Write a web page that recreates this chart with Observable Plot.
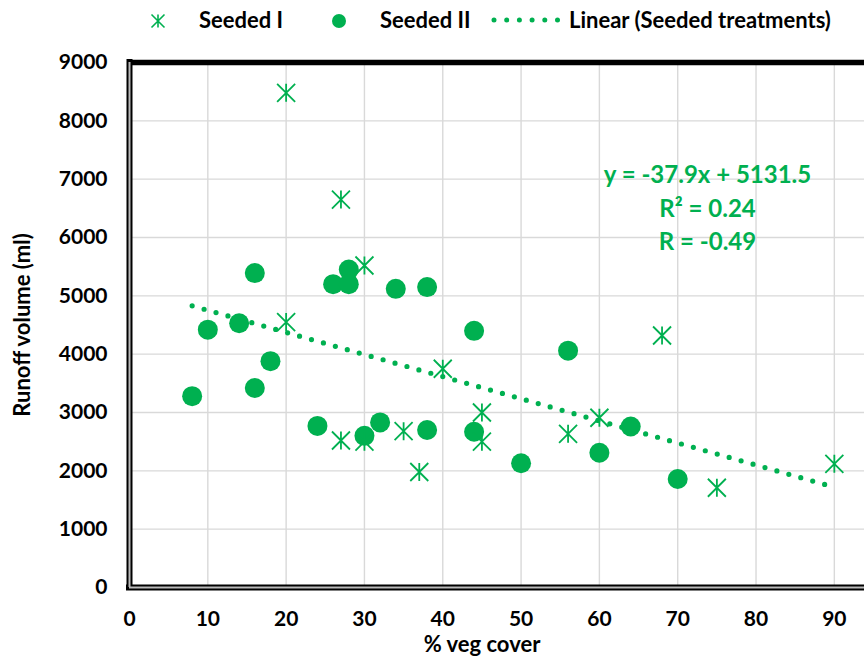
<!DOCTYPE html>
<html>
<head>
<meta charset="utf-8">
<script src="https://cdn.jsdelivr.net/npm/d3@7"></script>
<script src="https://cdn.jsdelivr.net/npm/@observablehq/plot@0.6"></script>
<style>
  html, body { margin: 0; padding: 0; background: #fff; }
  body { width: 864px; height: 662px; overflow: hidden; font-family: Lato, "Open Sans", sans-serif; font-weight: bold; }
  #legend { position: relative; height: 40px; width: 864px; font-size: 22px; color: #000; }
  #legend .item { position: absolute; top: 0; height: 40px; line-height: 40px; white-space: nowrap; }
  #legend svg { position: absolute; }
  #chart svg { display: block; }
</style>
</head>
<body>
<div id="legend"></div>
<div id="chart"></div>
<script>
// ---- data ----
const seededIX = [20, 27, 30, 20, 40, 45, 45, 27, 30, 35, 37, 68, 56, 60, 75, 90];
const seededIY = [8480, 6650, 5520, 4550, 3750, 3000, 2500, 2520, 2500, 2680, 1980, 4320, 2635, 2910, 1710, 2120];
const seededIIX = [16, 28, 26, 28, 34, 38, 10, 14, 44, 18, 16, 8, 24, 30, 32, 38, 44, 56, 50, 60, 64, 70];
const seededIIY = [5390, 5450, 5200, 5200, 5120, 5150, 4420, 4530, 4400, 3880, 3420, 3280, 2770, 2600, 2830, 2700, 2670, 4060, 2130, 2310, 2760, 1860];
const trendX = [8, 90];
const trendY = [4828, 1720];
const xTicks = [0, 10, 20, 30, 40, 50, 60, 70, 80, 90];
const yTicks = [0, 1000, 2000, 3000, 4000, 5000, 6000, 7000, 8000, 9000];
const seriesNames = ["Seeded I", "Seeded II", "Linear (Seeded treatments)"];
const equationText = ["y = -37.9x + 5131.5", "R² = 0.24", "R = -0.49"];
const xLabel = "% veg cover";
const yLabel = "Runoff volume (ml)";

const green = "#00B050";
const seedI = seededIX.map((x, i) => ({x, y: seededIY[i]}));
const seedII = seededIIX.map((x, i) => ({x, y: seededIIY[i]}));
const trend = trendX.map((x, i) => ({x, y: trendY[i]}));

const asterisk = {
  draw(ctx, size) {
    const r = Math.sqrt(size / Math.PI);
    ctx.moveTo(0, -r); ctx.lineTo(0, r);
    ctx.moveTo(-r, -r); ctx.lineTo(r, r);
    ctx.moveTo(-r, r); ctx.lineTo(r, -r);
  }
};

// ---- legend ----
const legend = document.getElementById("legend");
legend.innerHTML = `
  <svg style="left:150px;top:13px" width="16" height="16" viewBox="-8 -8 16 16">
    <path d="M0,-6.5V6.5M-6.5,-6.5L6.5,6.5M-6.5,6.5L6.5,-6.5" stroke="${green}" stroke-width="1.6" fill="none"/>
  </svg>
  <div class="item" style="left:199px">${seriesNames[0]}</div>
  <svg style="left:331px;top:13px" width="16" height="16" viewBox="-8 -8 16 16">
    <circle r="7" fill="${green}"/>
  </svg>
  <div class="item" style="left:380px">${seriesNames[1]}</div>
  <svg style="left:488px;top:14px" width="76" height="12" viewBox="0 -6 76 12">
    <line x1="6" x2="72" y1="0" y2="0" stroke="${green}" stroke-width="5" stroke-linecap="round" stroke-dasharray="0 12.7"/>
  </svg>
  <div class="item" style="left:569px">${seriesNames[2]}</div>
`;

// ---- chart ----
const chart = Plot.plot({
  width: 864,
  height: 622,
  marginTop: 22,
  marginBottom: 75,
  marginLeft: 129,
  marginRight: 0,
  style: {fontFamily: "Lato, 'Open Sans', sans-serif", fontWeight: "bold", fontSize: "21px", color: "#000", background: "#fff"},
  x: {domain: [0, 93.85]},
  y: {domain: [0, 9000]},
  marks: [
    Plot.ruleX(xTicks, {stroke: "#d9d9d9", strokeWidth: 1.4}),
    Plot.ruleY(yTicks, {stroke: "#d9d9d9", strokeWidth: 1.4}),
    Plot.axisX(xTicks, {tickSize: 0, tickPadding: 24, label: null, fill: "#000", tickFormat: d => String(d)}),
    Plot.axisY(yTicks, {tickSize: 0, tickPadding: 22, label: null, fill: "#000", tickFormat: d => String(d)}),
    Plot.ruleY([9000], {stroke: "#000", strokeWidth: 5.5}),
    Plot.ruleX([0], {stroke: "#000", strokeWidth: 6, strokeLinecap: "square"}),
    Plot.ruleY([0], {stroke: "#000", strokeWidth: 6, strokeLinecap: "square"}),
    Plot.ruleX([0], {stroke: "#bbb", strokeWidth: 2}),
    Plot.ruleY([0], {stroke: "#bbb", strokeWidth: 2}),
    Plot.line(trend, {x: "x", y: "y", stroke: green, strokeWidth: 5.2, strokeLinecap: "round", strokeDasharray: "0 12.4"}),
    Plot.dot(seedII, {x: "x", y: "y", r: 10, fill: green, stroke: "none"}),
    Plot.dot(seedI, {x: "x", y: "y", r: 9, symbol: asterisk, fill: "none", stroke: green, strokeWidth: 1.8}),
    Plot.text([equationText.join("\n")], {x: 73.8, y: 6540, text: d => d, fill: green, fontSize: 24, fontWeight: "bold", lineHeight: 1.4, textAnchor: "middle", lineAnchor: "middle"}),
    Plot.text([xLabel], {frameAnchor: "bottom", text: d => d, dx: -15, dy: 57, fill: "#000", fontSize: 22, textAnchor: "middle", lineAnchor: "middle"}),
    Plot.text([yLabel], {frameAnchor: "left", text: d => d, rotate: -90, dx: -107, fill: "#000", fontSize: 22, textAnchor: "middle", lineAnchor: "middle"})
  ]
});
document.getElementById("chart").appendChild(chart);
</script>
</body>
</html>
